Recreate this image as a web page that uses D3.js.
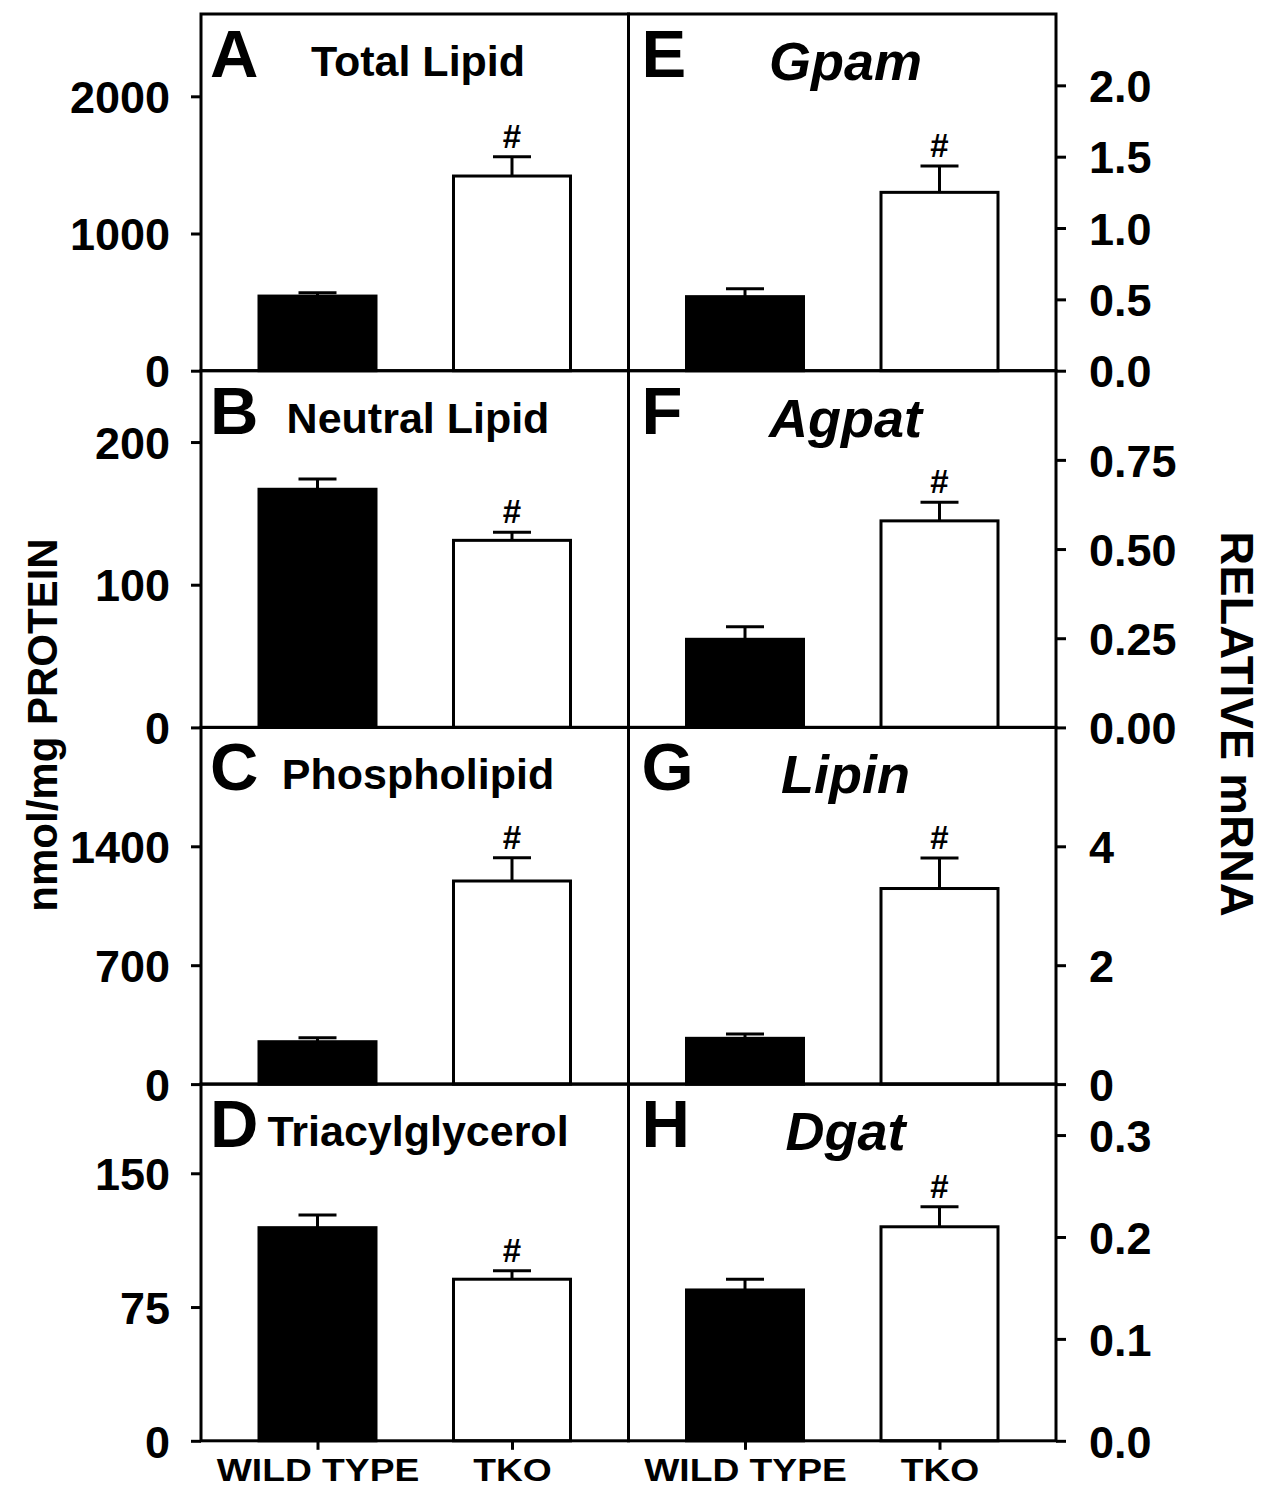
<!DOCTYPE html>
<html>
<head>
<meta charset="utf-8">
<script src="https://cdn.jsdelivr.net/npm/d3@7/dist/d3.min.js"></script>
<style>
  html, body { margin: 0; padding: 0; background: #fff; }
  svg { display: block; }
  text { font-family: "Liberation Sans", Arial, Helvetica, sans-serif; font-weight: bold; fill: #000; }
</style>
</head>
<body>
<svg id="chart" width="1265" height="1492"></svg>
<script>
// ---------------- data ----------------
const categories = ["WILD TYPE", "TKO"];
const panelLetters = ["A", "B", "C", "D", "E", "F", "G", "H"];
const panelTitles = ["Total Lipid", "Neutral Lipid", "Phospholipid", "Triacylglycerol",
                     "Gpam", "Agpat", "Lipin", "Dgat"];
const meanWT  = [544, 166.9, 249.6, 119.5, 0.519, 0.247, 0.77, 0.148];
const errWT   = [24, 7.2, 23.6, 7.1, 0.056, 0.035, 0.073, 0.0105];
const meanTKO = [1419, 131.1, 1195.7, 90.6, 1.25, 0.579, 3.29, 0.21];
const errTKO  = [141, 5.6, 137, 4.8, 0.185, 0.052, 0.515, 0.0197];
const yMax    = [2600, 250, 2100, 200, 2.5, 1.0, 6, 0.35];
const tickValues = [
  [0, 1000, 2000], [0, 100, 200], [0, 700, 1400], [0, 75, 150],
  [0, 0.5, 1.0, 1.5, 2.0], [0, 0.25, 0.5, 0.75], [0, 2, 4], [0, 0.1, 0.2, 0.3]
];
const tickLabels = [
  ["0", "1000", "2000"], ["0", "100", "200"], ["0", "700", "1400"], ["0", "75", "150"],
  ["0.0", "0.5", "1.0", "1.5", "2.0"], ["0.00", "0.25", "0.50", "0.75"], ["0", "2", "4"], ["0.0", "0.1", "0.2", "0.3"]
];
const significant = [true, true, true, true, true, true, true, true];
const leftAxisTitle = "nmol/mg PROTEIN";
const rightAxisTitle = "RELATIVE mRNA";

// ---------------- layout ----------------
const svg = d3.select("#chart");
svg.append("rect").attr("width", 1265).attr("height", 1492).attr("fill", "#fff");

const colX = [201, 628.5];
const W = 427.5;
const top0 = 14;
const H = 356.7;
const barW = 117;
const capHalf = 19;
const SW = 3;

const x = d3.scalePoint().domain(categories).range([0, W]).padding(0.599);

for (let i = 0; i < 8; i++) {
  const col = i < 4 ? 0 : 1;
  const row = i % 4;
  const x0 = colX[col];
  const y0 = top0 + row * H;
  const g = svg.append("g").attr("transform", `translate(${x0},${y0})`);
  const y = d3.scaleLinear().domain([0, yMax[i]]).range([H, 0]);

  const labels = tickLabels[i];
  const vals = tickValues[i];
  const fmt = v => labels[vals.indexOf(v)];

  // axis
  if (col === 0) {
    const ax = g.append("g").call(d3.axisLeft(y).tickValues(vals).tickFormat(fmt).tickSize(10).tickPadding(21));
    ax.select(".domain").remove();
    ax.selectAll("line").attr("stroke", "#000").attr("stroke-width", SW);
    ax.selectAll("text").attr("font-size", 45).attr("dy", "0.36em")
      .style("font-family", '"Liberation Sans", Arial, sans-serif').style("font-weight", "bold");
  } else {
    const ax = g.append("g").attr("transform", `translate(${W},0)`)
      .call(d3.axisRight(y).tickValues(vals).tickFormat(fmt).tickSize(10).tickPadding(23));
    ax.select(".domain").remove();
    ax.selectAll("line").attr("stroke", "#000").attr("stroke-width", SW);
    ax.selectAll("text").attr("font-size", 45).attr("dy", "0.36em")
      .style("font-family", '"Liberation Sans", Arial, sans-serif').style("font-weight", "bold");
  }

  // bars
  const data = [
    { cat: categories[0], v: meanWT[i], e: errWT[i], fill: "#000" },
    { cat: categories[1], v: meanTKO[i], e: errTKO[i], fill: "#fff" }
  ];
  data.forEach(d => {
    const cx = x(d.cat);
    g.append("line").attr("x1", cx).attr("x2", cx).attr("y1", y(d.v)).attr("y2", y(d.v + d.e))
      .attr("stroke", "#000").attr("stroke-width", SW);
    g.append("line").attr("x1", cx - capHalf).attr("x2", cx + capHalf)
      .attr("y1", y(d.v + d.e)).attr("y2", y(d.v + d.e))
      .attr("stroke", "#000").attr("stroke-width", SW);
    g.append("rect").attr("x", cx - barW / 2).attr("y", y(d.v))
      .attr("width", barW).attr("height", y(0) - y(d.v))
      .attr("fill", d.fill).attr("stroke", "#000").attr("stroke-width", SW);
  });
  if (significant[i]) {
    const cx = x(categories[1]);
    g.append("text").attr("x", cx).attr("y", y(meanTKO[i] + errTKO[i]) - 9)
      .attr("text-anchor", "middle").attr("font-size", 33).text("#");
  }

  // frame
  g.append("rect").attr("x", 0).attr("y", 0).attr("width", W).attr("height", H)
    .attr("fill", "none").attr("stroke", "#000").attr("stroke-width", SW);

  // panel letter & title
  g.append("text").attr("x", col === 0 ? 9 : 13).attr("y", 63).attr("font-size", 67).text(panelLetters[i]);
  if (col === 0) {
    g.append("text").attr("x", 217).attr("y", 62).attr("text-anchor", "middle")
      .attr("font-size", 43).text(panelTitles[i]);
  } else {
    g.append("text").attr("x", 217).attr("y", 66).attr("text-anchor", "middle")
      .attr("font-size", 54).attr("font-style", "italic").text(panelTitles[i]);
  }

  // bottom category axis
  if (row === 3) {
    const bx = g.append("g").attr("transform", `translate(0,${H})`)
      .call(d3.axisBottom(x).tickSize(9).tickPadding(9.5));
    bx.select(".domain").remove();
    bx.selectAll("line").attr("stroke", "#000").attr("stroke-width", SW);
    bx.selectAll("text").attr("font-size", 31).attr("transform", "scale(1.2,1)")
      .style("font-family", '"Liberation Sans", Arial, sans-serif').style("font-weight", "bold");
  }
}

// axis titles
svg.append("text").attr("transform", "translate(57,725) rotate(-90)")
  .attr("text-anchor", "middle").attr("font-size", 42).text(leftAxisTitle);
svg.append("text").attr("transform", "translate(1221,724) rotate(90)")
  .attr("text-anchor", "middle").attr("font-size", 47).text(rightAxisTitle);
</script>
</body>
</html>
